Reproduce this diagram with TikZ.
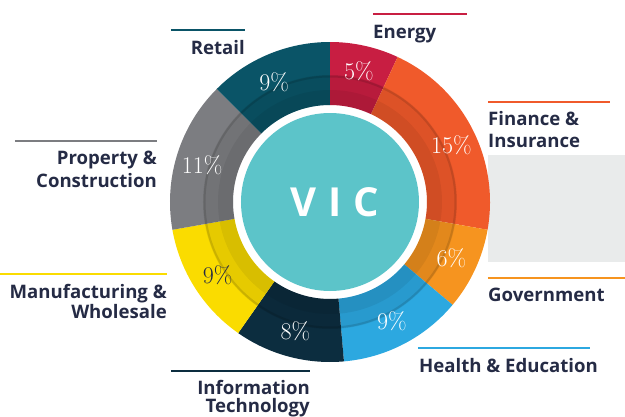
\documentclass[tikz,border=0pt]{standalone}
\usepackage{fontspec}
\newfontfamily\lblfont{Open Sans}
\newfontfamily\vicfont[LetterSpace=30]{Open Sans}
\usepackage{xcolor}
\usetikzlibrary{positioning}
\definecolor{ink}{HTML}{252B45}
\definecolor{energyc}{HTML}{C81E42}
\definecolor{financec}{HTML}{F05A2B}
\definecolor{govc}{HTML}{F6941F}
\definecolor{healthc}{HTML}{2CA8E0}
\definecolor{itc}{HTML}{0C2D3F}
\definecolor{manuc}{HTML}{FADC00}
\definecolor{propc}{HTML}{7C7D81}
\definecolor{retailc}{HTML}{0A5467}
\definecolor{vicc}{HTML}{5CC4C9}
\definecolor{panel}{HTML}{E9EBEB}
\tikzset{
  rule/.style={line width=2pt},
  lab/.style={text=ink, font=\lblfont\bfseries\fontsize{18.6}{18}\selectfont, inner sep=0pt},
  labl/.style={lab, anchor=north west, align=left},
  labr/.style={lab, anchor=north east, align=right},
  pct/.style={text=white, font=\fontsize{24}{24}\selectfont},
}

\begin{document}
\begin{tikzpicture}[x=1pt,y=1pt]
\useasboundingbox (-330,-214) rectangle (295,202);
\fill[panel] (158,47) rectangle (295,-60);
% ring segments
\fill[energyc] (90:160) arc[start angle=90, end angle=65, radius=160] -- (65:97) arc[start angle=65, end angle=90, radius=97] -- cycle;
\fill[financec] (65:160) arc[start angle=65, end angle=-10, radius=160] -- (-10:97) arc[start angle=-10, end angle=65, radius=97] -- cycle;
\fill[govc] (-10:160) arc[start angle=-10, end angle=-40, radius=160] -- (-40:97) arc[start angle=-40, end angle=-10, radius=97] -- cycle;
\fill[healthc] (-40:160) arc[start angle=-40, end angle=-85, radius=160] -- (-85:97) arc[start angle=-85, end angle=-40, radius=97] -- cycle;
\fill[itc] (-85:160) arc[start angle=-85, end angle=-125, radius=160] -- (-125:97) arc[start angle=-125, end angle=-85, radius=97] -- cycle;
\fill[manuc] (-125:160) arc[start angle=-125, end angle=-170, radius=160] -- (-170:97) arc[start angle=-170, end angle=-125, radius=97] -- cycle;
\fill[propc] (190:160) arc[start angle=190, end angle=135, radius=160] -- (135:97) arc[start angle=135, end angle=190, radius=97] -- cycle;
\fill[retailc] (135:160) arc[start angle=135, end angle=90, radius=160] -- (90:97) arc[start angle=90, end angle=135, radius=97] -- cycle;
% inner shadow band
\fill[black, opacity=0.08, even odd rule] (0,0) circle[radius=127] (0,0) circle[radius=97];
\fill[black, opacity=0.06, even odd rule] (0,0) circle[radius=112] (0,0) circle[radius=97];
\draw[black, opacity=0.12, line width=2pt] (0,0) circle[radius=125.5];
\node[circle, fill=vicc, minimum size=178pt, inner sep=0pt, text=white,
  font=\vicfont\bfseries\fontsize{40}{40}\selectfont] (vic) at (0,0) {VIC\kern-9pt};

% percentages
\node[pct] (pEnergy) at (77.5:134) {5\%};
\node[pct] (pFinance) at (25:134) {15\%};
\node[pct] (pGov) at (-25:134) {6\%};
\node[pct] (pHealth) at (-62.5:134) {9\%};
\node[pct] (pIT) at (-105:134) {8\%};
\node[pct, text=ink] (pManu) at (-147:134) {9\%};
\node[pct] (pProp) at (164:133) {11\%};
\node[pct] (pRetail) at (115:132) {9\%};

% labels
\node[labl] (energy) at (43,177) {Energy};
\node[labr] (retail) at (-85,162) {Retail};
\node[labl] (finance) at (158,91) {Finance \&\\[4pt]Insurance};
\node[labl] (gov) at (158,-86) {Government};
\node[labl] (health) at (89,-156) {Health \& Education};
\node[labr] (infotech) at (-20,-178) {Information\\Technology};
\node[labr] (manu) at (-163,-82) {Manufacturing \&\\Wholesale};
\node[labr] (prop) at (-173,51) {Property \&\\[3pt]Construction};

% rules above labels
\coordinate (eA) at (43,188);   \coordinate (eB) at (137,188);
\coordinate (rA) at (-159,172); \coordinate (rB) at (-85,172);
\coordinate (fA) at (158,100);  \coordinate (fB) at (280,100);
\coordinate (gA) at (158,-76);  \coordinate (gB) at (295,-76);
\coordinate (hA) at (88,-146);  \coordinate (hB) at (260,-146);
\coordinate (iA) at (-159,-169);\coordinate (iB) at (-20,-169);
\coordinate (mA) at (-330,-72); \coordinate (mB) at (-163,-72);
\coordinate (pA) at (-315,61);  \coordinate (pB) at (-173,61);
\draw[rule, energyc] (eA) -- (eB);
\draw[rule, retailc] (rA) -- (rB);
\draw[rule, financec] (fA) -- (fB);
\draw[rule, govc] (gA) -- (gB);
\draw[rule, healthc] (hA) -- (hB);
\draw[rule, itc] (iA) -- (iB);
\draw[rule, manuc] (mA) -- (mB);
\draw[rule, propc] (pA) -- (pB);
\end{tikzpicture}
\end{document}
